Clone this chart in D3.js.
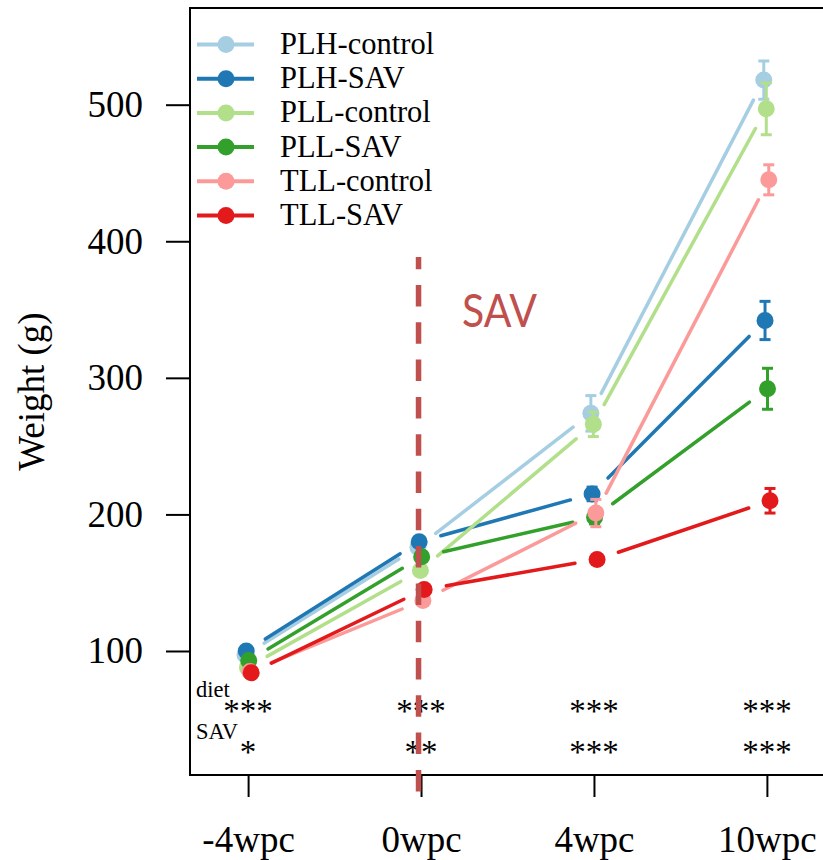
<!DOCTYPE html>
<html lang="en">
<head>
	<meta charset="UTF-8">
	<title>Weight by diet and SAV</title>
	<script src="https://cdnjs.cloudflare.com/ajax/libs/d3/7.8.5/d3.min.js"></script>
	<style>
		body{
			margin: 0;
			background: #fff;
		}
		text{
			font-family: "Liberation Serif", "Times New Roman", serif;
			fill: #000;
		}
		.axis path.domain{
			display: none;
		}
		.axis line{
			stroke: #000;
			stroke-width: 2;
		}
		.axis text{
			font-size: 37px;
		}
		.frame{
			fill: none;
			stroke: #000;
			stroke-width: 2;
		}
		.legend text{
			font-size: 30.5px;
		}
		.stars{
			font-size: 33px;
		}
		.rowLabel{
			font-size: 22.5px;
		}
		.savText{
			font-family: Lato, "Open Sans", sans-serif;
			font-size: 47px;
			fill: #c0504d;
		}
	</style>
</head>
<body>
	<div id="main"></div>

	<script>
		// data
		var timepoints = ["-4wpc", "0wpc", "4wpc", "10wpc"];
		var groups = ["PLH-control", "PLH-SAV", "PLL-control", "PLL-SAV", "TLL-control", "TLL-SAV"];

		var plhControl = [97, 176, 274, 518],
			plhSav     = [100, 180, 215, 342],
			pllControl = [88, 159, 266, 497],
			pllSav     = [93, 169, 198, 292],
			tllControl = [85, 137, 201, 445],
			tllSav     = [84, 145, 167, 210];

		var plhControlSe = [2, 3, 13, 14],
			plhSavSe     = [2, 3, 5, 14],
			pllControlSe = [2, 3, 9, 19],
			pllSavSe     = [2, 3, 5, 15],
			tllControlSe = [2, 3, 10, 11],
			tllSavSe     = [2, 3, 3, 9];

		var yTicks = [100, 200, 300, 400, 500];
		var dietStars = ["***", "***", "***", "***"];
		var savStars = ["*", "**", "***", "***"];

		var colours = ["#a6cee3", "#1f78b4", "#b2df8a", "#33a02c", "#fb9a99", "#e31a1c"];

		var means = [plhControl, plhSav, pllControl, pllSav, tllControl, tllSav];
		var errors = [plhControlSe, plhSavSe, pllControlSe, pllSavSe, tllControlSe, tllSavSe];

		var width = 823,
			height = 860,
			plot = {left:190, right:825, top:8, bottom:775},
			gap = 22.5,
			radius = 8.5,
			capHalf = 5.5;

		var svg = d3.select("#main").append("svg")
			.attr("width", width)
			.attr("height", height);

		var xScale = d3.scaleLinear()
			.domain([0.664, 4.336])
			.range([plot.left, plot.right]);

		var yScale = d3.scaleLinear()
			.domain([9.2, 570.8])
			.range([plot.bottom, plot.top]);

		// axes
		svg.append("g")
			.attr("class", "axis")
			.attr("transform", "translate(" + plot.left + ",0)")
			.call(d3.axisLeft(yScale).tickValues(yTicks).tickSize(24).tickPadding(23));

		svg.append("g")
			.attr("class", "axis")
			.attr("transform", "translate(0," + plot.bottom + ")")
			.call(d3.axisBottom(xScale)
				.tickValues([1, 2, 3, 4])
				.tickFormat(function(d){ return timepoints[d - 1]; })
				.tickSize(22)
				.tickPadding(29));

		svg.append("rect")
			.attr("class", "frame")
			.attr("x", plot.left)
			.attr("y", plot.top)
			.attr("width", plot.right - plot.left)
			.attr("height", plot.bottom - plot.top);

		svg.append("text")
			.attr("transform", "translate(44," + ((plot.top + plot.bottom) / 2) + ") rotate(-90)")
			.attr("text-anchor", "middle")
			.style("font-size", "37px")
			.text("Weight (g)");

		// one layer per group: lines, points, then error bars
		groups.forEach(function(name, g){
			var off = (g - 2.5) * 0.0072;
			var pts = means[g].map(function(v, i){
				return {x: xScale(i + 1 + off), y: yScale(v), v: v, e: errors[g][i]};
			});

			var layer = svg.append("g").attr("class", "group");

			var segs = d3.pairs(pts).map(function(p){
				var dx = p[1].x - p[0].x, dy = p[1].y - p[0].y,
					len = Math.sqrt(dx * dx + dy * dy),
					ux = dx / len, uy = dy / len;
				return {x1: p[0].x + ux * gap, y1: p[0].y + uy * gap,
						x2: p[1].x - ux * gap, y2: p[1].y - uy * gap};
			});

			layer.selectAll("line.seg")
				.data(segs)
				.enter()
				.append("line")
				.attr("class", "seg")
				.attr("x1", function(d){ return d.x1; })
				.attr("y1", function(d){ return d.y1; })
				.attr("x2", function(d){ return d.x2; })
				.attr("y2", function(d){ return d.y2; })
				.style("stroke", colours[g])
				.style("stroke-width", 3.5)
				.style("stroke-linecap", "round");

			layer.selectAll("circle")
				.data(pts)
				.enter()
				.append("circle")
				.attr("cx", function(d){ return d.x; })
				.attr("cy", function(d){ return d.y; })
				.attr("r", radius)
				.style("fill", colours[g]);

			var bars = layer.selectAll("g.err")
				.data(pts)
				.enter()
				.append("g")
				.attr("class", "err")
				.style("stroke", colours[g])
				.style("stroke-width", 3);

			bars.append("line")
				.attr("x1", function(d){ return d.x; })
				.attr("x2", function(d){ return d.x; })
				.attr("y1", function(d){ return yScale(d.v - d.e); })
				.attr("y2", function(d){ return yScale(d.v + d.e); });

			bars.append("line")
				.attr("x1", function(d){ return d.x - capHalf; })
				.attr("x2", function(d){ return d.x + capHalf; })
				.attr("y1", function(d){ return yScale(d.v + d.e); })
				.attr("y2", function(d){ return yScale(d.v + d.e); });

			bars.append("line")
				.attr("x1", function(d){ return d.x - capHalf; })
				.attr("x2", function(d){ return d.x + capHalf; })
				.attr("y1", function(d){ return yScale(d.v - d.e); })
				.attr("y2", function(d){ return yScale(d.v - d.e); });
		});

		// legend
		var legend = svg.append("g").attr("class", "legend");

		var rows = legend.selectAll("g")
			.data(groups)
			.enter()
			.append("g")
			.attr("transform", function(d, i){ return "translate(0," + (44.5 + i * 34.2) + ")"; });

		rows.append("line")
			.attr("x1", 197).attr("x2", 254)
			.attr("y1", 0).attr("y2", 0)
			.style("stroke", function(d, i){ return colours[i]; })
			.style("stroke-width", 4);

		rows.append("circle")
			.attr("cx", 226)
			.attr("cy", 0)
			.attr("r", radius)
			.style("fill", function(d, i){ return colours[i]; });

		rows.append("text")
			.attr("x", 280)
			.attr("y", 9.5)
			.text(function(d){ return d; });

		// significance rows
		svg.append("text").attr("class", "rowLabel").attr("x", 196).attr("y", 697).text("diet");
		svg.append("text").attr("class", "rowLabel").attr("x", 196).attr("y", 739).text("SAV");

		svg.selectAll("text.dietStar")
			.data(dietStars)
			.enter()
			.append("text")
			.attr("class", "stars dietStar")
			.attr("text-anchor", "middle")
			.attr("x", function(d, i){ return xScale(i + 1); })
			.attr("y", 721.5)
			.text(function(d){ return d; });

		svg.selectAll("text.savStar")
			.data(savStars)
			.enter()
			.append("text")
			.attr("class", "stars savStar")
			.attr("text-anchor", "middle")
			.attr("x", function(d, i){ return xScale(i + 1); })
			.attr("y", 762.5)
			.text(function(d){ return d; });

		// SAV start marker
		var savX = xScale(2) - 2.5;
		svg.append("line")
			.attr("x1", savX).attr("x2", savX)
			.attr("y1", 257).attr("y2", 792)
			.style("stroke", "#c0504d")
			.style("stroke-width", 5.5)
			.style("stroke-dasharray", "21.5 15.8")
			.style("stroke-dashoffset", 9.3);

		svg.append("text")
			.attr("class", "savText")
			.attr("x", 462)
			.attr("y", 327)
			.attr("textLength", 75)
			.attr("lengthAdjust", "spacingAndGlyphs")
			.text("SAV");
	</script>
</body>
</html>
